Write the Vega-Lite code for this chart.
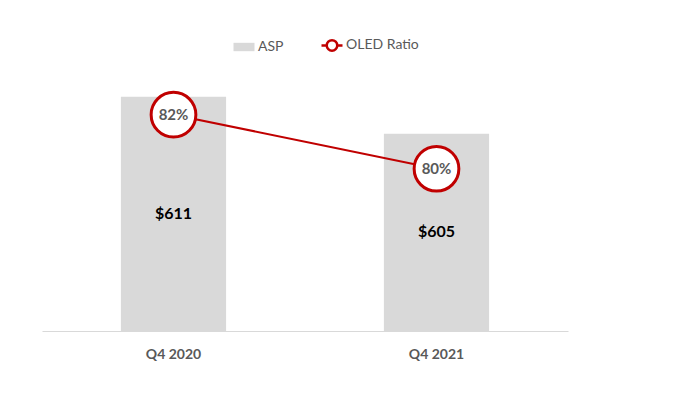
{
  "$schema": "https://vega.github.io/schema/vega-lite/v6.json",
  "autosize": {"type": "none"},
  "width": 526,
  "height": 265,
  "padding": {"left": 42, "top": 66, "right": 112, "bottom": 68},
  "background": "white",
  "config": {
    "view": {"stroke": null},
    "font": "Lato"
  },
  "data": {
    "values": [
      {"Quarter": "Q4 2020", "ASP": 611, "ASPLabel": "$611", "OLED": 82, "OLEDLabel": "82%"},
      {"Quarter": "Q4 2021", "ASP": 605, "ASPLabel": "$605", "OLED": 80, "OLEDLabel": "80%"}
    ]
  },
  "encoding": {
    "x": {
      "field": "Quarter",
      "type": "nominal",
      "scale": {"paddingInner": 0.6, "paddingOuter": 0.3},
      "axis": {
        "title": null,
        "labelAngle": 0,
        "labelFont": "Lato",
        "labelFontWeight": "bold",
        "labelFontSize": 14,
        "labelColor": "#595959",
        "labelPadding": 16,
        "ticks": false,
        "domainColor": "#d9d9d9",
        "domainWidth": 1
      }
    }
  },
  "layer": [
    {
      "mark": {"type": "bar", "color": "#d9d9d9", "clip": true},
      "encoding": {
        "y": {"field": "ASP", "type": "quantitative", "scale": {"domain": [573, 616], "zero": false, "nice": false}, "axis": null},
        "color": {
          "datum": "ASP",
          "type": "nominal",
          "scale": {"domain": ["ASP", "OLED Ratio"], "range": ["#d9d9d9", "#c00000"]},
          "legend": {
            "title": null,
            "orient": "none",
            "direction": "horizontal",
            "legendX": 190,
            "legendY": -33,
            "labelFont": "Lato",
            "labelFontSize": 14,
            "labelColor": "#595959",
            "labelOffset": 2,
            "columnPadding": 32,
            "symbolSize": 441,
            "symbolStrokeWidth": 2.5,
            "encode": {
              "symbols": {
                "update": {
                  "shape": {"signal": "datum.value === 'ASP' ? 'M-1,-0.4H1V0.4H-1Z' : 'M-1,0H-0.5A0.5,0.5 0 1,1 0.5,0A0.5,0.5 0 1,1 -0.5,0M0.5,0H1'"},
                  "fillOpacity": {"signal": "datum.value === 'ASP' ? 1 : 0"},
                  "strokeOpacity": {"signal": "datum.value === 'ASP' ? 0 : 1"}
                }
              }
            }
          }
        }
      }
    },
    {
      "transform": [{"calculate": "(datum.ASP + 573) / 2", "as": "ASPMid"}],
      "mark": {"type": "text", "font": "Lato", "fontWeight": "bold", "fontSize": 16, "color": "#000000", "baseline": "middle"},
      "encoding": {
        "y": {"field": "ASPMid", "type": "quantitative", "scale": {"domain": [573, 616], "zero": false, "nice": false}, "axis": null},
        "text": {"field": "ASPLabel"}
      }
    },
    {
      "mark": {"type": "line", "color": "#c00000", "strokeWidth": 2},
      "encoding": {
        "y": {"field": "OLED", "type": "quantitative", "scale": {"domain": [74, 83.8], "zero": false, "nice": false}, "axis": null},
        "color": {"datum": "OLED Ratio", "type": "nominal"}
      }
    },
    {
      "mark": {"type": "point", "shape": "circle", "filled": true, "fill": "white", "stroke": "#c00000", "strokeWidth": 3, "size": 2000, "opacity": 1},
      "encoding": {
        "y": {"field": "OLED", "type": "quantitative", "scale": {"domain": [74, 83.8], "zero": false, "nice": false}, "axis": null}
      }
    },
    {
      "mark": {"type": "text", "font": "Lato", "fontWeight": "bold", "fontSize": 15, "color": "#595959", "baseline": "middle"},
      "encoding": {
        "y": {"field": "OLED", "type": "quantitative", "scale": {"domain": [74, 83.8], "zero": false, "nice": false}, "axis": null},
        "text": {"field": "OLEDLabel"}
      }
    }
  ],
  "resolve": {"scale": {"y": "independent"}}
}
